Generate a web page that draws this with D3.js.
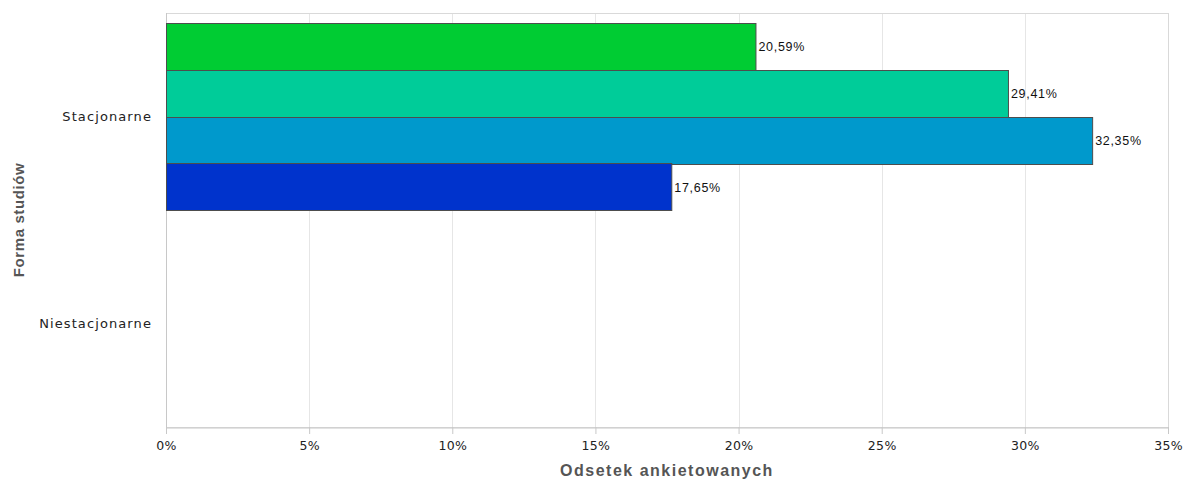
<!DOCTYPE html>
<html><head><meta charset="utf-8">
<script src="https://cdn.jsdelivr.net/npm/d3@7"></script>
<style>body{margin:0;background:#fff}svg{display:block}</style>
</head><body>
<script>
const categories = ["Stacjonarne", "Niestacjonarne"];
const seriesNames = ["A", "B", "C", "D"];
const seriesColors = ["#00cc33", "#00cc99", "#0099cc", "#0033cc"];
const stacjonarneValues = [20.59, 29.41, 32.35, 17.65];
const niestacjonarneValues = [null, null, null, null];
const xTicks = [0, 5, 10, 15, 20, 25, 30, 35];

const W = 1184, H = 481;
const m = {left: 166, right: 16, top: 13, bottom: 54};
const svg = d3.select("body").append("svg").attr("width", W).attr("height", H);
const x = d3.scaleLinear().domain([0, 35]).range([m.left, W - m.right]);
const y = d3.scaleBand().domain(categories).range([m.top, H - m.bottom]).paddingInner(0).paddingOuter(0);
const ys = d3.scaleBand().domain(seriesNames).range([0, y.bandwidth()]).paddingOuter(0.214).paddingInner(0);

// grid
svg.append("g").selectAll("line").data(xTicks.slice(1, -1)).join("line")
  .attr("x1", d => Math.round(x(d)) + 0.5).attr("x2", d => Math.round(x(d)) + 0.5)
  .attr("y1", m.top).attr("y2", H - m.bottom)
  .attr("stroke", "#e6e6e6");
// frame
svg.append("rect").attr("x", m.left + 0.5).attr("y", m.top + 0.5)
  .attr("width", x(35) - m.left).attr("height", H - m.bottom - m.top)
  .attr("fill", "none").attr("stroke", "#d9d9d9");
svg.append("line").attr("x1", m.left + 0.5).attr("x2", m.left + 0.5).attr("y1", m.top).attr("y2", H - m.bottom)
  .attr("stroke", "#c8c8c8");

const data = [
  {cat: "Stacjonarne", vals: stacjonarneValues},
  {cat: "Niestacjonarne", vals: niestacjonarneValues}
];
data.forEach(row => {
  const g = svg.append("g").attr("transform", `translate(0,${y(row.cat)})`);
  row.vals.forEach((v, i) => {
    if (v == null) return;
    g.append("rect").attr("x", x(0) + 0.5).attr("y", Math.round(ys(seriesNames[i])) + 0.5)
      .attr("width", x(v) - x(0)).attr("height", Math.round(ys.bandwidth()))
      .attr("fill", seriesColors[i]).attr("stroke", "#4d4d4d").attr("stroke-width", 1);
    g.append("text").attr("x", x(v) + 3).attr("y", ys(seriesNames[i]) + ys.bandwidth() / 2 + 5)
      .attr("font-family", "Liberation Sans, Arial, sans-serif")
      .attr("font-size", 12.5).attr("letter-spacing", 0.7).attr("fill", "#111")
      .text(v.toFixed(2).replace(".", ",") + "%");
  });
});

// x axis
const xa = svg.append("g").attr("transform", `translate(0,${H - m.bottom})`)
  .call(d3.axisBottom(x).tickValues(xTicks).tickFormat(d => d + "%").tickSize(7).tickSizeOuter(0));
xa.select(".domain").attr("stroke", "#c8c8c8").attr("transform", "translate(0.5,0.5)");
xa.selectAll(".tick line").attr("stroke", "#c8c8c8");
xa.selectAll("text").attr("font-family", "DejaVu Sans, sans-serif").attr("font-size", 12.5)
  .attr("letter-spacing", 0.3).attr("fill", "#222").attr("y", 23).attr("dy", null);

// y axis labels
svg.append("g").selectAll("text").data(categories).join("text")
  .attr("x", m.left - 14).attr("y", d => y(d) + y.bandwidth() / 2 + 4.5)
  .attr("text-anchor", "end")
  .attr("font-family", "DejaVu Sans, sans-serif").attr("font-size", 13).attr("letter-spacing", 1.1).attr("fill", "#222")
  .text(d => d);

// axis titles
svg.append("text").attr("x", (m.left + x(35)) / 2).attr("y", 476).attr("text-anchor", "middle")
  .attr("font-family", "Liberation Sans, Arial, sans-serif").attr("font-size", 16).attr("font-weight", "bold")
  .attr("letter-spacing", 1.5).attr("fill", "#555").text("Odsetek ankietowanych");
svg.append("text").attr("transform", `translate(24,${(m.top + H - m.bottom) / 2}) rotate(-90)`)
  .attr("text-anchor", "middle")
  .attr("font-family", "Liberation Sans, Arial, sans-serif").attr("font-size", 15).attr("font-weight", "bold")
  .attr("letter-spacing", 0.6).attr("fill", "#555").text("Forma studiów");
</script>
</body></html>
